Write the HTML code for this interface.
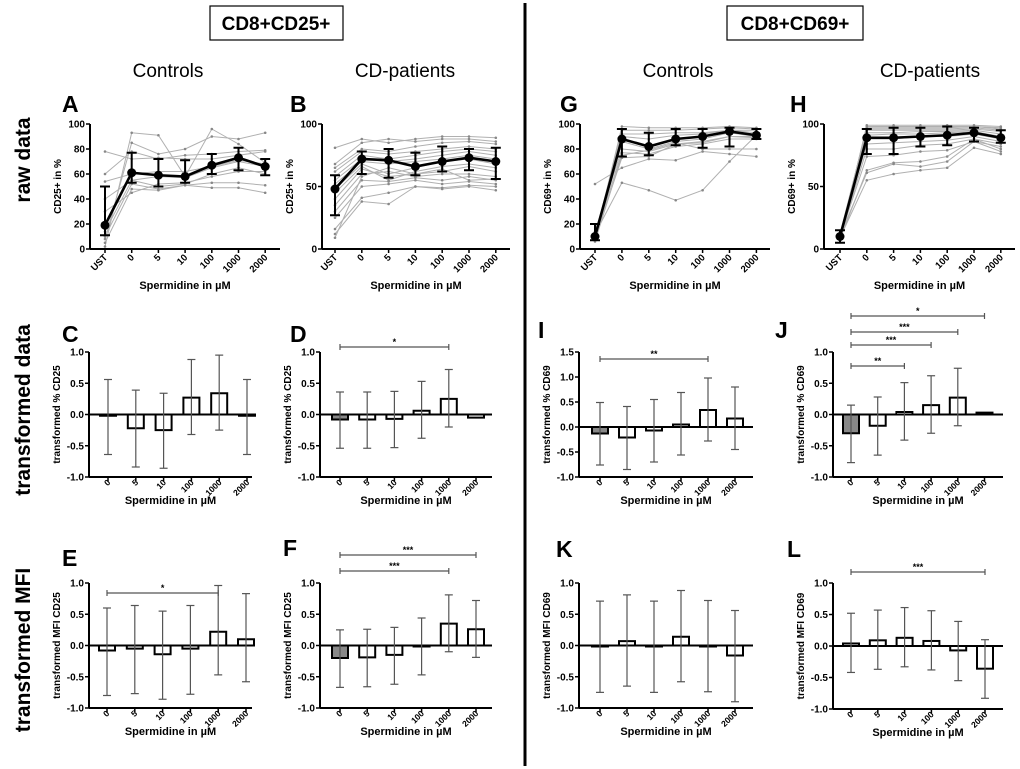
<!DOCTYPE html>
<html><head><meta charset="utf-8"><style>
body{margin:0;background:#fff}
svg{display:block;font-family:"Liberation Sans",sans-serif}
</style></head><body>
<svg id="fig" width="1020" height="769" viewBox="0 0 1020 769" xmlns="http://www.w3.org/2000/svg">
<rect x="0" y="0" width="1020" height="769" fill="#fff"/>
<line x1="525" y1="3" x2="525" y2="766" stroke="#000" stroke-width="3"/>
<rect x="210" y="6" width="133" height="34" fill="none" stroke="#000" stroke-width="1.2"/>
<text x="276" y="30" font-size="19" font-weight="bold" text-anchor="middle">CD8+CD25+</text>
<rect x="727" y="6" width="136" height="34" fill="none" stroke="#000" stroke-width="1.2"/>
<text x="795" y="30" font-size="19" font-weight="bold" text-anchor="middle">CD8+CD69+</text>
<text x="168" y="77" font-size="19" text-anchor="middle">Controls</text>
<text x="405" y="77" font-size="19" text-anchor="middle">CD-patients</text>
<text x="678" y="77" font-size="19" text-anchor="middle">Controls</text>
<text x="930" y="77" font-size="19" text-anchor="middle">CD-patients</text>
<text transform="translate(30,160) rotate(-90)" font-size="21" font-weight="bold" text-anchor="middle">raw data</text>
<text transform="translate(30,410) rotate(-90)" font-size="21" font-weight="bold" text-anchor="middle">transformed data</text>
<text transform="translate(30,650) rotate(-90)" font-size="21" font-weight="bold" text-anchor="middle">transformed MFI</text>
</svg>
<script>
const rawCats = ["UST","0","5","10","100","1000","2000"];
const barCats = ["0","5","10","100","1000","2000"];

// Panel A
const aMean = [19,61,59,58,67,73,66];
const aLow = [11,53,50,53,60,63,59];
const aHigh = [50,77,72,71,76,81,72];
const aInd = [[2,93,91,58,96,84,69],[8,85,76,80,90,88,93],[60,78,72,75,76,78,79],[78,72,73,72,72,75,78],[54,60,62,62,66,71,68],[40,55,58,57,65,70,66],[14,55,50,52,60,65,60],[10,52,48,51,53,53,51],[5,48,47,51,49,49,45],[30,45,52,53,58,62,62]];
// Panel B
const bMean = [48,72,71,66,70,73,70];
const bLow = [27,60,57,59,62,63,56];
const bHigh = [59,78,80,77,82,80,81];
const bInd = [[81,88,85,88,90,90,89],[68,85,88,86,88,88,86],[65,80,78,82,85,86,84],[62,78,76,78,80,82,80],[58,75,72,75,78,80,78],[55,72,70,72,75,78,75],[52,70,68,70,72,75,72],[48,68,60,65,70,72,68],[45,66,55,62,66,68,65],[40,64,58,60,62,66,62],[35,60,62,58,60,60,58],[30,55,54,57,55,58,55],[25,50,52,55,52,54,52],[16,41,45,50,49,51,50],[12,38,36,50,48,50,47],[9,58,65,60,64,55,56]];
// Panel G
const gMean = [10,88,82,88,90,94,91];
const gLow = [7,74,75,83,81,82,88];
const gHigh = [20,96,93,96,96,97,96];
const gInd = [[52,65,72,71,78,76,74],[12,53,47,39,47,70,91],[8,98,97,97,97,98,97],[10,95,95,95,96,97,96],[9,92,92,93,93,95,95],[7,90,88,91,92,95,93],[11,86,80,86,88,93,90],[14,80,78,84,86,90,89],[10,77,76,82,84,88,88],[6,75,79,85,80,80,80],[9,73,74,84,85,90,90]];
// Panel H
const hMean = [10,89,89,90,91,93,89];
const hLow = [5,76,76,82,83,86,85];
const hHigh = [15,96,97,97,98,97,95];
const hInd = [[8,99,99,99,99,99,98],[10,98,98,98,98,98,97],[12,97,97,97,97,98,96],[9,96,96,96,96,97,95],[11,95,95,95,95,96,94],[8,93,93,94,94,95,92],[10,91,92,92,93,94,90],[7,88,88,90,90,92,88],[12,84,85,86,87,90,86],[9,80,80,83,84,88,84],[10,74,75,78,79,86,82],[8,63,69,70,74,88,80],[11,61,68,66,70,86,78],[9,55,60,63,65,81,76]];

// Bar panels: values, upper, lower
const cVal=[-0.02,-0.22,-0.25,0.27,0.34,-0.02], cUp=[0.56,0.39,0.34,0.88,0.95,0.56], cLo=[-0.64,-0.84,-0.86,-0.32,-0.25,-0.64];
const dVal=[-0.08,-0.08,-0.07,0.06,0.25,-0.05], dUp=[0.36,0.36,0.37,0.53,0.72,-0.05], dLo=[-0.54,-0.54,-0.53,-0.38,-0.20,-0.05];
const eVal=[-0.08,-0.05,-0.14,-0.05,0.22,0.10], eUp=[0.60,0.64,0.55,0.64,0.96,0.83], eLo=[-0.80,-0.77,-0.86,-0.78,-0.47,-0.58];
const fVal=[-0.20,-0.19,-0.15,-0.01,0.35,0.26], fUp=[0.25,0.26,0.29,0.44,0.81,0.72], fLo=[-0.67,-0.66,-0.62,-0.47,-0.10,-0.19];
const iVal=[-0.13,-0.21,-0.07,0.05,0.34,0.17], iUp=[0.49,0.41,0.55,0.69,0.98,0.80], iLo=[-0.76,-0.85,-0.70,-0.56,-0.28,-0.45];
const jVal=[-0.30,-0.18,0.04,0.15,0.27,0.03], jUp=[0.15,0.28,0.51,0.62,0.74,0.03], jLo=[-0.77,-0.65,-0.41,-0.30,-0.18,0.03];
const kVal=[-0.01,0.07,-0.01,0.14,0.00,-0.16], kUp=[0.71,0.81,0.71,0.88,0.72,0.56], kLo=[-0.75,-0.65,-0.75,-0.58,-0.74,-0.90];
const lVal=[0.04,0.09,0.13,0.08,-0.07,-0.36], lUp=[0.52,0.57,0.61,0.56,0.39,0.10], lLo=[-0.42,-0.37,-0.33,-0.38,-0.55,-0.83];

const NS="http://www.w3.org/2000/svg";
const svg=document.getElementById('fig');
function mk(tag,attrs,parent){const e=document.createElementNS(NS,tag);for(const k in attrs)e.setAttribute(k,attrs[k]);(parent||svg).appendChild(e);return e;}
function txt(s,attrs,parent){const e=mk('text',attrs,parent);e.textContent=s;return e;}

function axes(g,P,ticks,fmt,yTitle,cats,xs,xTitleY,lblSize,lblOff){
  const ys=v=>P.y0+(v-P.vmin)/(P.vmax-P.vmin)*(P.y1-P.y0);
  const ax=mk('line',{x1:P.ax,y1:P.y1,x2:P.ax,y2:P.y0,stroke:'#000','stroke-width':2},g);
  
  
  const xa=mk('line',{x1:P.ax,y1:P.y0,x2:P.xend,y2:P.y0,stroke:'#000','stroke-width':2},g);
  
  
  ticks.forEach(t=>{
    const y=ys(t);
    mk('line',{x1:P.ax-4,y1:y,x2:P.ax,y2:y,stroke:'#000','stroke-width':1.5},g);
    const l=txt(fmt(t),{x:P.ax-5,y:y+3.5,'font-size':10,'font-weight':'bold','text-anchor':'end'},g);
    
    
  });
  cats.forEach((c,i)=>{
    const x=xs(i);
    mk('line',{x1:x,y1:P.y0,x2:x,y2:P.y0+4,stroke:'#000','stroke-width':1.5},g);
    const l=txt(c,{transform:`translate(${x+3},${P.y0+lblOff}) rotate(-45)`,'font-size':lblSize,'font-weight':'bold','text-anchor':'end'},g);
    
    
  });
  const yt=txt(yTitle,{transform:`translate(${P.ax-29},${(P.y0+P.y1)/2}) rotate(-90)`,'font-size':10,'font-weight':'bold','text-anchor':'middle'},g);
  
  
  const xt=txt('Spermidine in \u00b5M',{x:(P.ax+P.xend)/2,y:xTitleY,'font-size':11,'font-weight':'bold','text-anchor':'middle'},g);
  
  
  return ys;
}
function letter(s,x,y){const l=txt(s,{x:x,y:y,'font-size':23,'font-weight':'bold'});
  
  }

function rawPanel(name,P,mean,lo,hi,ind,ticks){
  const g=mk('g',{});
  
  
  const xs=i=>P.x0+i*P.dx;
  const ys=axes(g,P,ticks,t=>String(t),P.title,rawCats,xs,P.y0+40,9.5,9);
  ind.forEach(row=>{
    const pl=mk('polyline',{points:row.map((v,i)=>xs(i)+','+ys(v)).join(' '),fill:'none',stroke:'#b0b0b0','stroke-width':1},g);
    
    
    row.forEach((v,i)=>{const d=mk('circle',{cx:xs(i),cy:ys(v),r:1.3,fill:'#888'},g);
      
      });
  });
  mean.forEach((m,i)=>{
    const x=xs(i);
    mk('line',{x1:x,y1:ys(lo[i]),x2:x,y2:ys(hi[i]),stroke:'#000','stroke-width':2},g);
    mk('line',{x1:x-5,y1:ys(lo[i]),x2:x+5,y2:ys(lo[i]),stroke:'#000','stroke-width':2},g);
    mk('line',{x1:x-5,y1:ys(hi[i]),x2:x+5,y2:ys(hi[i]),stroke:'#000','stroke-width':2},g);
  });
  const ml=mk('polyline',{points:mean.map((v,i)=>xs(i)+','+ys(v)).join(' '),fill:'none',stroke:'#000','stroke-width':2.6},g);
  
  
  mean.forEach((v,i)=>{const c=mk('circle',{cx:xs(i),cy:ys(v),r:4.5,fill:'#000'},g);
    
    });
}

function barPanel(name,P,val,up,lo,ticks,greyFirst,sig,ytitle){
  const g=mk('g',{});
  
  
  const xs=i=>P.x0+i*P.dx;
  const ys=axes(g,P,ticks,t=>t.toFixed(1),ytitle,barCats,xs,P.y0+27,8.5,6);
  const z=ys(0), w=16;
  val.forEach((v,i)=>{
    const x=xs(i);
    const r=mk('rect',{x:x-w/2,y:Math.min(ys(v),z),width:w,height:Math.max(Math.abs(ys(v)-z),1),fill:(greyFirst&&i===0)?'#888':'#fff',stroke:'#000','stroke-width':2},g);
    
    
  });
  mk('line',{x1:P.ax,y1:z,x2:P.xend,y2:z,stroke:'#000','stroke-width':2},g);
  val.forEach((v,i)=>{
    const x=xs(i);
    if(Math.abs(up[i]-lo[i])<0.01)return;
    mk('line',{x1:x,y1:ys(lo[i]),x2:x,y2:ys(up[i]),stroke:'#555','stroke-width':1.2},g);
    mk('line',{x1:x-4,y1:ys(lo[i]),x2:x+4,y2:ys(lo[i]),stroke:'#555','stroke-width':1.2},g);
    mk('line',{x1:x-4,y1:ys(up[i]),x2:x+4,y2:ys(up[i]),stroke:'#555','stroke-width':1.2},g);
  });
  (sig||[]).forEach(s=>{
    const x1=xs(s[0]),x2=xs(s[1]),y=s[2];
    const b=mk('g',{},g);
    
    
    mk('line',{x1:x1,y1:y,x2:x2,y2:y,stroke:'#555','stroke-width':1.2},b);
    mk('line',{x1:x1,y1:y-3,x2:x1,y2:y+3,stroke:'#555','stroke-width':1.2},b);
    mk('line',{x1:x2,y1:y-3,x2:x2,y2:y+3,stroke:'#555','stroke-width':1.2},b);
    txt(s[3],{x:(x1+x2)/2,y:y-2,'font-size':9,'font-weight':'bold','text-anchor':'middle'},b);
  });
}

const t100=[0,20,40,60,80,100], t50=[0,50,100], t1=[-1,-0.5,0,0.5,1], t15=[-1,-0.5,0,0.5,1,1.5];
rawPanel('panel-a',{ax:90,xend:280,x0:105,dx:26.7,y0:249,y1:124,vmin:0,vmax:100,title:'CD25+ in %'},aMean,aLow,aHigh,aInd,t100);
rawPanel('panel-b',{ax:322,xend:510,x0:335,dx:26.8,y0:249,y1:124,vmin:0,vmax:100,title:'CD25+ in %'},bMean,bLow,bHigh,bInd,t50);
rawPanel('panel-g',{ax:580,xend:770,x0:595,dx:26.9,y0:249,y1:124,vmin:0,vmax:100,title:'CD69+ in %'},gMean,gLow,gHigh,gInd,t100);
rawPanel('panel-h',{ax:824,xend:1015,x0:840,dx:26.8,y0:249,y1:124,vmin:0,vmax:100,title:'CD69+ in %'},hMean,hLow,hHigh,hInd,t50);

barPanel('panel-c',{ax:89,xend:252,x0:108,dx:27.8,y0:477,y1:352,vmin:-1,vmax:1},cVal,cUp,cLo,t1,false,[],'transformed % CD25');
barPanel('panel-d',{ax:320,xend:492,x0:340,dx:27.2,y0:477,y1:352,vmin:-1,vmax:1},dVal,dUp,dLo,t1,true,[[0,4,347,'*']],'transformed % CD25');
barPanel('panel-i',{ax:579,xend:753,x0:600,dx:27,y0:477,y1:352,vmin:-1,vmax:1.5},iVal,iUp,iLo,t15,true,[[0,4,359,'**']],'transformed % CD69');
barPanel('panel-j',{ax:833,xend:1003,x0:851,dx:26.7,y0:477,y1:352,vmin:-1,vmax:1},jVal,jUp,jLo,t1,true,[[0,5,316,'*'],[0,4,332,'***'],[0,3,345,'***'],[0,2,366,'**']],'transformed % CD69');

barPanel('panel-e',{ax:89,xend:252,x0:107,dx:27.8,y0:708,y1:583,vmin:-1,vmax:1},eVal,eUp,eLo,t1,false,[[0,4,593,'*']],'transformed MFI CD25');
barPanel('panel-f',{ax:320,xend:492,x0:340,dx:27.2,y0:708,y1:583,vmin:-1,vmax:1},fVal,fUp,fLo,t1,true,[[0,5,555,'***'],[0,4,571,'***']],'transformed MFI CD25');
barPanel('panel-k',{ax:579,xend:753,x0:600,dx:27,y0:708,y1:583,vmin:-1,vmax:1},kVal,kUp,kLo,t1,false,[],'transformed MFI CD69');
barPanel('panel-l',{ax:833,xend:1003,x0:851,dx:26.8,y0:709,y1:583,vmin:-1,vmax:1},lVal,lUp,lLo,t1,false,[[0,5,572,'***']],'transformed MFI CD69');

letter('A',62,112);letter('B',290,112);letter('G',560,112);letter('H',790,112);
letter('C',62,342);letter('D',290,342);letter('I',538,338);letter('J',775,338);
letter('E',62,566);letter('F',283,556);letter('K',556,557);letter('L',787,557);
</script>
</body></html>
